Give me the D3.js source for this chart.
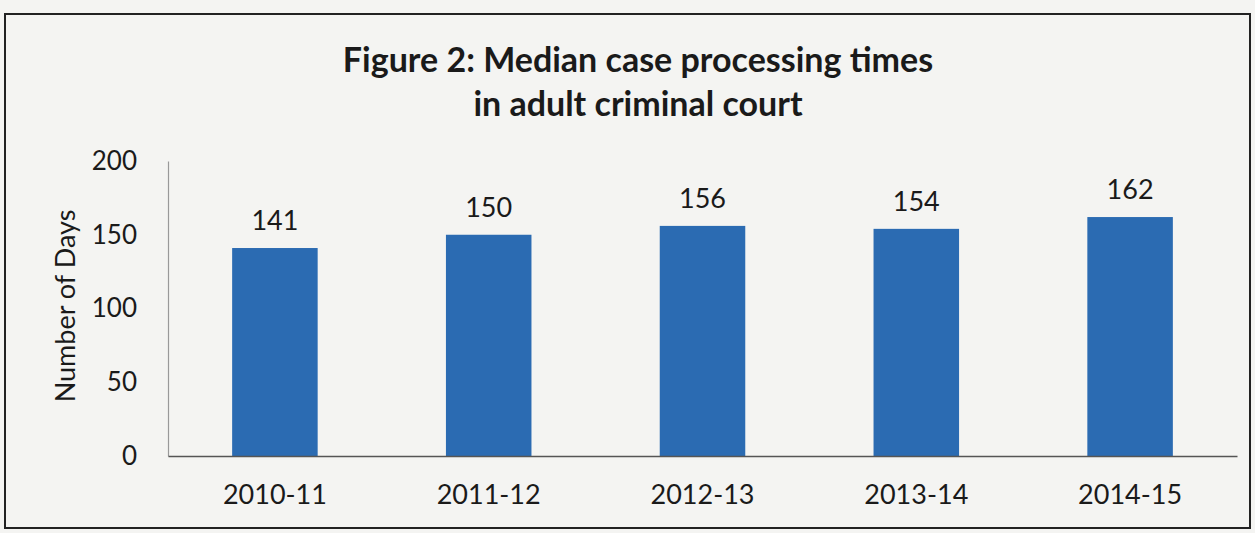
<!DOCTYPE html>
<html><head><meta charset="utf-8">
<script src="https://cdn.jsdelivr.net/npm/d3@7"></script>
<style>
html,body{margin:0;padding:0;background:#f4f4f2;}
svg{display:block;}
text{font-family:Lato,"Open Sans",sans-serif;fill:#1a1a1a;}
</style></head>
<body>
<script>
const categories = ["2010-11","2011-12","2012-13","2013-14","2014-15"];
const values = [141,150,156,154,162];
const yTicks = [0,50,100,150,200];
const titleLines = ["Figure 2: Median case processing times","in adult criminal court"];
const yLabel = "Number of Days";

const W=1255,H=533;
const svg=d3.select("body").append("svg").attr("width",W).attr("height",H);
svg.append("rect").attr("width",W).attr("height",H).attr("fill","#f4f4f2");
// frame
svg.append("rect").attr("x",5).attr("y",14).attr("width",1245).attr("height",514)
  .attr("fill","none").attr("stroke","#222").attr("stroke-width",2);

const x=d3.scaleBand().domain(categories).range([168,1237]).paddingInner(0.6).paddingOuter(0.3);
const y=d3.scaleLinear().domain([0,200]).range([456,161]);

// y axis
const ya=svg.append("g").attr("transform","translate(168,0)")
  .call(d3.axisLeft(y).tickValues(yTicks).tickSize(0).tickPadding(31));
ya.select(".domain").attr("stroke","#999").attr("stroke-width",1.2);
ya.selectAll("text").attr("font-size",26).attr("font-family","Lato,sans-serif").attr("fill","#1a1a1a");

// bars
svg.selectAll("rect.bar").data(values).enter().append("rect").attr("class","bar")
  .attr("x",(d,i)=>x(categories[i])).attr("width",x.bandwidth())
  .attr("y",d=>y(d)).attr("height",d=>y(0)-y(d)).attr("fill","#2b6bb2");

// x axis
const xa=svg.append("g").attr("transform","translate(0,"+y(0)+")")
  .call(d3.axisBottom(x).tickSize(0).tickPadding(29));
xa.select(".domain").attr("stroke","#555").attr("stroke-width",1.5);
xa.selectAll("text").attr("font-size",27).attr("font-family","Lato,sans-serif").attr("fill","#1a1a1a");

// value labels
svg.selectAll("text.val").data(values).enter().append("text").attr("class","val")
  .attr("x",(d,i)=>x(categories[i])+x.bandwidth()/2).attr("y",d=>y(d)-18)
  .attr("text-anchor","middle").attr("font-size",27).text(d=>d);

// y label
svg.append("text").attr("transform","translate(75,306) rotate(-90)")
  .attr("text-anchor","middle").attr("font-size",27).text(yLabel);

// title
svg.selectAll("text.title").data(titleLines).enter().append("text").attr("class","title")
  .attr("x",638).attr("y",(d,i)=>72+i*44).attr("text-anchor","middle")
  .attr("font-size",34).attr("font-weight","bold").text(d=>d);
</script>
</body></html>
